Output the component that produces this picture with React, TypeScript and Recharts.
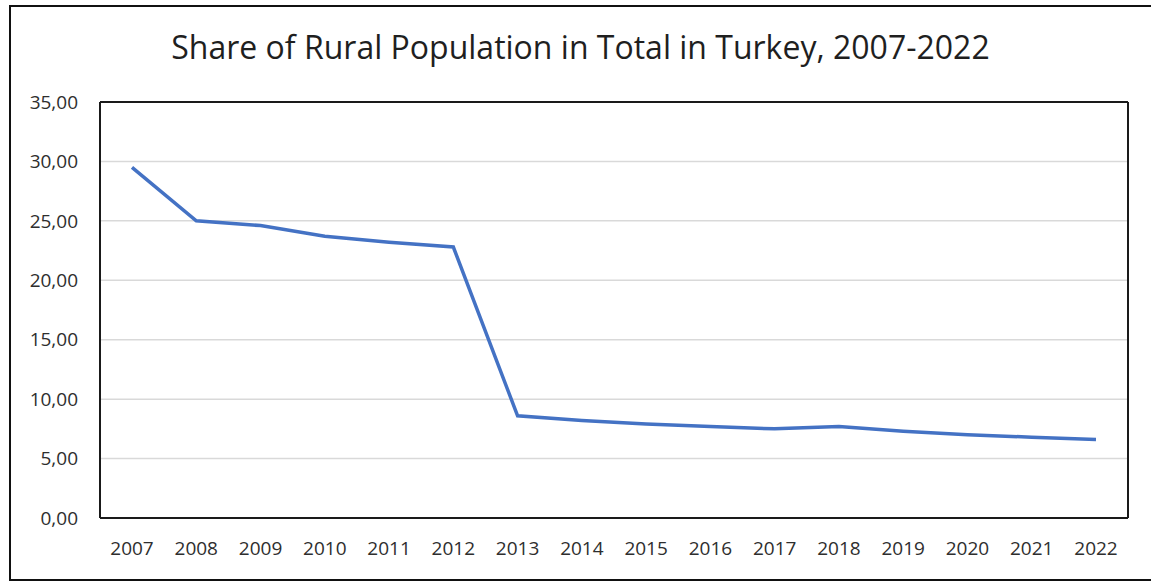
import React from "react";
import { LineChart, Line, XAxis, YAxis, CartesianGrid } from "recharts";

const years = ["2007","2008","2009","2010","2011","2012","2013","2014","2015","2016","2017","2018","2019","2020","2021","2022"];
const ruralShare = [29.5, 25.0, 24.6, 23.7, 23.2, 22.8, 8.6, 8.2, 7.9, 7.7, 7.5, 7.7, 7.3, 7.0, 6.8, 6.6];
const yTicks = [0, 5, 10, 15, 20, 25, 30, 35];
const title = "Share of Rural Population in Total in Turkey, 2007-2022";

const data = years.map((y, i) => ({ year: y, value: ruralShare[i] }));
const fmt = (v: number) => v.toFixed(2).replace(".", ",");
const font = "'Open Sans', sans-serif";

export default function App() {
  return (
    <div style={{ position: "absolute", left: 0, top: 0, width: 1151, height: 581, background: "#fff", overflow: "hidden", fontFamily: font }}>
      <div style={{ position: "absolute", left: 9, top: 5, width: 1170, height: 572, border: "2px solid #111" }} />
      <div style={{ position: "absolute", left: 0, top: 21, width: 1161, textAlign: "center", fontSize: 32, color: "#1f1f1f", lineHeight: "52px" }}>{title}</div>
      <div style={{ position: "absolute", left: 0, top: 0 }}>
        <LineChart width={1151} height={581} data={data} margin={{ top: 101, right: 22, bottom: 0, left: 0 }}>
          <CartesianGrid vertical={false} stroke="#d9d9d9" strokeWidth={1.5} yAxisId="main" xAxisId="main" />
          <XAxis xAxisId="main" dataKey="year" height={63} padding={{ left: 32, right: 32 }} tickLine={false} tickSize={0} tickMargin={24}
            axisLine={{ stroke: "#1a1a1a", strokeWidth: 2 }} tick={{ fill: "#2e2e2e", fontSize: 19, fontFamily: font }} interval={0} />
          <XAxis xAxisId="top" orientation="top" dataKey="year" height={1} tick={false} tickLine={false} axisLine={{ stroke: "#1a1a1a", strokeWidth: 2 }} />
          <YAxis yAxisId="main" width={100} domain={[0, 35]} ticks={yTicks} tickFormatter={fmt} tickLine={false} tickSize={0} tickMargin={22}
            axisLine={{ stroke: "#1a1a1a", strokeWidth: 2 }} tick={{ fill: "#2e2e2e", fontSize: 19, fontFamily: font }} />
          <YAxis yAxisId="right" orientation="right" width={1} domain={[0, 35]} tick={false} tickLine={false} axisLine={{ stroke: "#1a1a1a", strokeWidth: 2 }} />
          <Line xAxisId="main" yAxisId="main" type="linear" dataKey="value" stroke="#4472C4" strokeWidth={3.5} dot={false} isAnimationActive={false} />
        </LineChart>
      </div>
    </div>
  );
}
